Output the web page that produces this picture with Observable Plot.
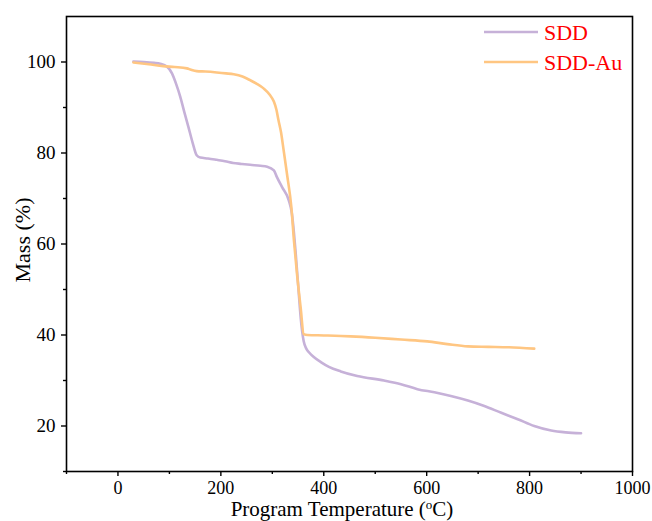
<!DOCTYPE html>
<html>
<head>
<meta charset="utf-8">
<script src="https://cdn.jsdelivr.net/npm/d3@7"></script>
<script src="https://cdn.jsdelivr.net/npm/@observablehq/plot@0.6"></script>
<style>
  html, body { margin: 0; padding: 0; background: #fff; }
  #chart { position: relative; width: 652px; height: 521px; }
  #chart svg text { font-family: 'Liberation Serif', 'Times New Roman', serif !important; }
</style>
</head>
<body>
<div id="chart"></div>
<script>
const seriesNames = ["SDD", "SDD-Au"];
const seriesColors = ["#c6b1d8", "#ffc682"];

const sddTemp = [30, 50, 70, 82, 95, 105, 113, 121, 129, 137, 145, 153, 160, 175, 192, 208, 224, 240, 257, 277, 290, 303, 309, 319, 332, 338, 342, 345, 351, 355, 358, 361, 366, 372, 380, 395, 410, 433, 465, 517, 550, 582, 615, 647, 680, 712, 745, 777, 809, 842, 870, 900];
const sddMass = [100.1, 100.0, 99.8, 99.6, 99.0, 97.5, 95.2, 92.4, 89.0, 85.7, 82.3, 79.5, 79.0, 78.8, 78.5, 78.2, 77.8, 77.6, 77.4, 77.2, 77.0, 76.2, 74.7, 72.5, 69.6, 66.7, 62.5, 58.6, 49.8, 44.0, 40.8, 38.6, 37.0, 36.1, 35.2, 34.0, 33.0, 32.0, 31.0, 30.0, 29.2, 28.1, 27.4, 26.6, 25.6, 24.4, 22.9, 21.5, 20.0, 19.0, 18.6, 18.4];

const auTemp = [30, 60, 88, 110, 134, 142, 153, 170, 192, 210, 225, 242, 257, 270, 283, 295, 303, 308, 312, 317, 322, 329, 337, 342, 348, 355, 361, 368, 400, 452, 500, 550, 601, 640, 680, 720, 760, 809];
const auMass = [99.9, 99.5, 99.1, 98.9, 98.6, 98.3, 98.0, 97.9, 97.7, 97.5, 97.3, 96.8, 96.0, 95.2, 94.2, 92.8, 91.3, 89.5, 87.2, 84.5, 80.6, 75.0, 68.1, 60.8, 53.4, 46.1, 40.2, 40.0, 39.9, 39.7, 39.4, 39.0, 38.6, 38.0, 37.5, 37.4, 37.3, 37.0];

const xMajor = [0, 200, 400, 600, 800, 1000];
const xMinor = [-100, 100, 300, 500, 700, 900];
const yMajor = [20, 40, 60, 80, 100];
const yMinor = [10, 30, 50, 70, 90];

const sdd = sddTemp.map((t, i) => ({t, m: sddMass[i]}));
const au = auTemp.map((t, i) => ({t, m: auMass[i]}));

const font = "'Liberation Serif', 'Times New Roman', serif";
const fmt = d => String(d);

const plot = Plot.plot({
  width: 652,
  height: 521,
  marginLeft: 66,
  marginRight: 20,
  marginTop: 16,
  marginBottom: 50,
  style: {fontFamily: font, background: "#fff", color: "#000"},
  x: {domain: [-100, 1000]},
  y: {domain: [10, 110]},
  marks: [
    Plot.line(sdd, {x: "t", y: "m", stroke: seriesColors[0], strokeWidth: 2.6, curve: "monotone-x"}),
    Plot.line(au, {x: "t", y: "m", stroke: seriesColors[1], strokeWidth: 2.6, curve: "monotone-x"}),
    Plot.axisX(xMajor, {tickSize: 5, tickPadding: 5, fontSize: 18, fontFamily: font, tickFormat: fmt, label: null, strokeWidth: 1.4}),
    Plot.axisX(xMinor, {tickSize: 3, text: null, label: null, strokeWidth: 1.4}),
    Plot.axisY(yMajor, {tickSize: 5, tickPadding: 6, fontSize: 19, fontFamily: font, tickFormat: fmt, label: null, strokeWidth: 1.4}),
    Plot.axisY(yMinor, {tickSize: 3, text: null, label: null, strokeWidth: 1.4}),
    Plot.frame({stroke: "#000", strokeWidth: 1.6})
  ]
});

document.getElementById("chart").appendChild(plot);

const svg = d3.select(plot);
// x axis label with superscript
const xl = svg.append("text")
  .attr("x", 342).attr("y", 516)
  .attr("text-anchor", "middle")
  .attr("font-family", font)
  .attr("font-size", 21)
  .attr("fill", "#000");
xl.append("tspan").text("Program Temperature (");
xl.append("tspan").attr("font-size", 13).attr("dy", -7).text("o");
xl.append("tspan").attr("dy", 7).text("C)");

// y axis label
svg.append("text")
  .attr("transform", "translate(30,240) rotate(-90)")
  .attr("text-anchor", "middle")
  .attr("font-family", font)
  .attr("font-size", 22)
  .attr("fill", "#000")
  .text("Mass (%)");

// legend
const lg = svg.append("g").attr("text-anchor", "start");
seriesNames.forEach((name, i) => {
  const y = 32 + i * 30;
  lg.append("line").attr("x1", 484).attr("x2", 538).attr("y1", y).attr("y2", y)
    .attr("stroke", seriesColors[i]).attr("stroke-width", 2.6);
  lg.append("text").attr("x", 544).attr("y", y + 8)
    .attr("text-anchor", "start")
    .attr("font-family", font).attr("font-size", 22).attr("fill", "#ff0000")
    .text(name);
});
</script>
</body>
</html>
